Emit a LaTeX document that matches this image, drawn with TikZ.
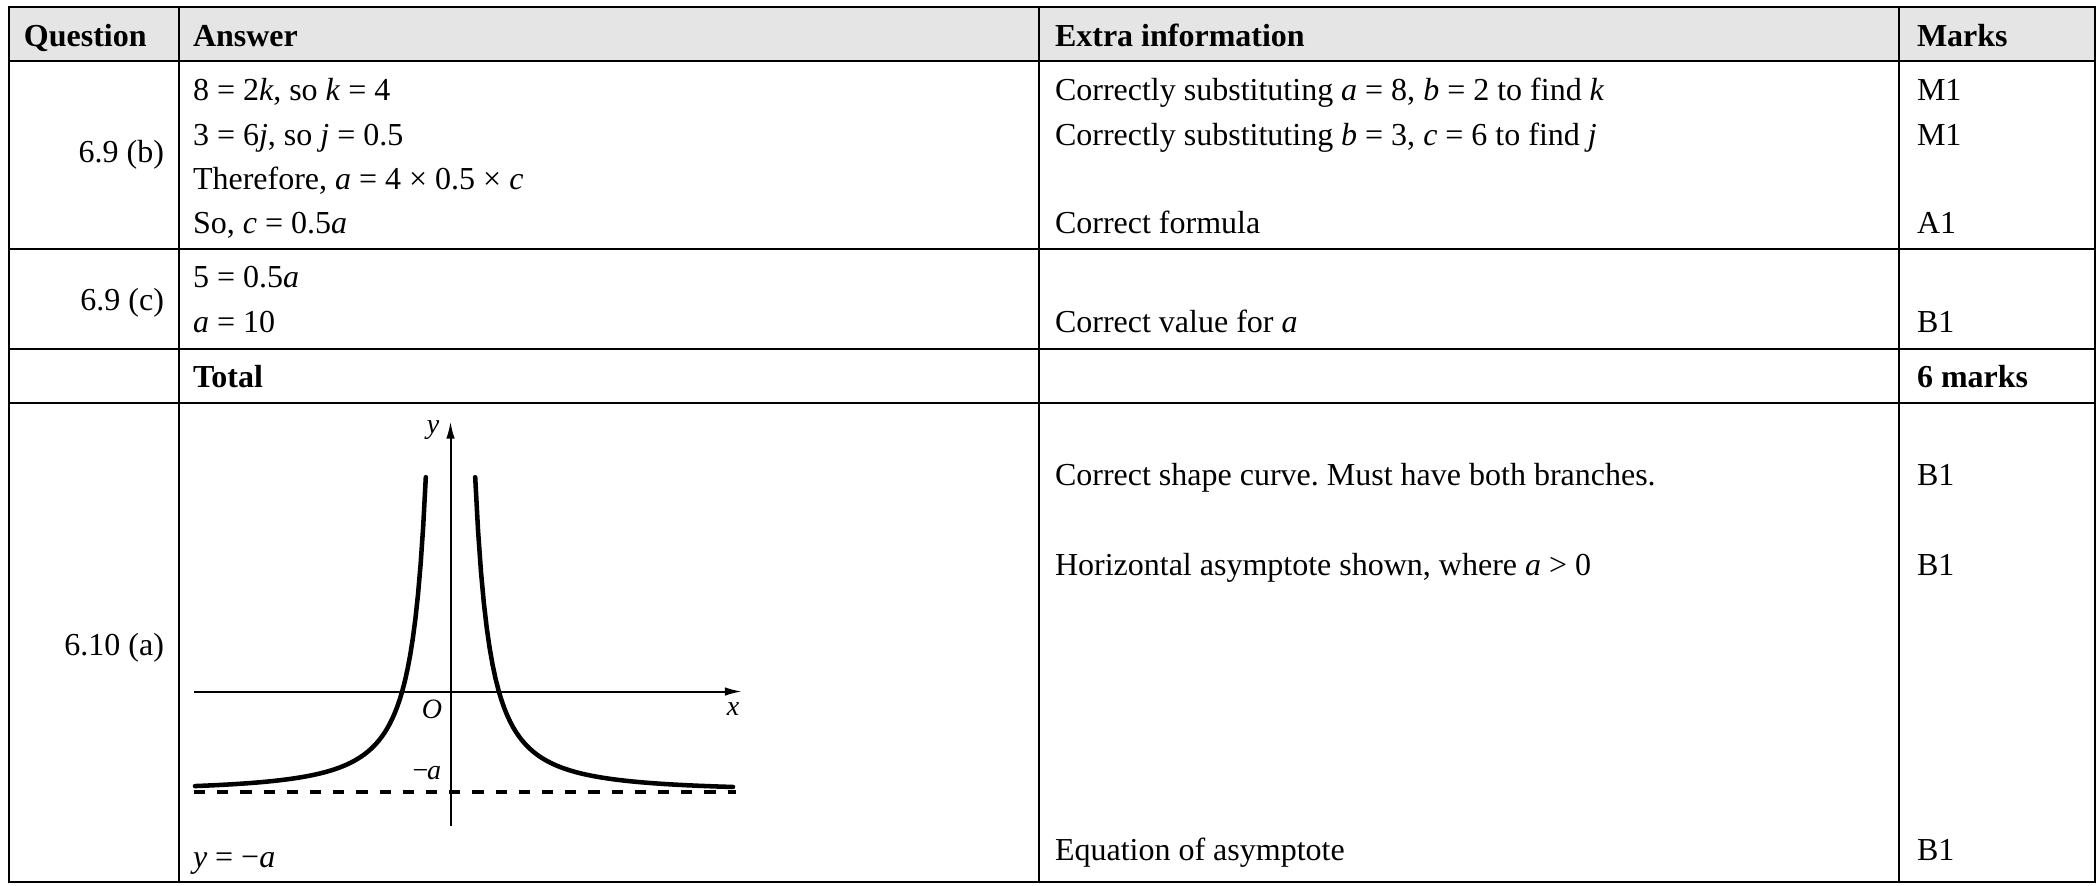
\documentclass[tikz,border=0pt]{standalone}
\usepackage{fontspec}
\setmainfont{Liberation Serif}
\usetikzlibrary{arrows.meta}
\definecolor{headgray}{gray}{0.9}
\frenchspacing

\begin{document}
\begin{tikzpicture}[x=0.375pt, y=-0.375pt,
  every node/.style={inner sep=0pt, outer sep=0pt, font=\fontsize{12}{14}\selectfont},
  cell/.style={anchor=base west},
  qnum/.style={anchor=base east},
  head/.style={anchor=base west, font=\fontsize{12}{14}\selectfont\bfseries},
  axlabel/.style={anchor=base, font=\fontsize{10.5}{12}\selectfont\itshape},
  rule/.style={line width=0.9pt},
  axis/.style={line width=0.75pt, -{Latex[length=6.4pt, width=3.2pt]}},
  branch/.style={line width=1.7pt, line cap=round}]
\useasboundingbox (0,0) rectangle (2100,885);
\fill[headgray] (9,7) rectangle (2095,61);

\node[head] (qhead) at (24,46.5) {Question};
\node[head] (ahead) at (193,46.5) {Answer};
\node[head] (ehead) at (1055,46.5) {Extra information};
\node[head] (mhead) at (1917,46.5) {Marks};

\node[qnum] (q9b) at (164,162) {6.9 (b)};
\node[cell] (a9b1) at (193,100) {8 = 2\textit{k}, so \textit{k} = 4};
\node[cell] (a9b2) at (193,145) {3 = 6\textit{j}, so \textit{j} = 0.5};
\node[cell] (a9b3) at (193,189) {Therefore, \textit{a} = 4 × 0.5 × \textit{c}};
\node[cell] (a9b4) at (193,233) {So, \textit{c} = 0.5\textit{a}};
\node[cell] (e9b1) at (1055,100) {Correctly substituting \textit{a} = 8, \textit{b} = 2 to find \textit{k}};
\node[cell] (e9b2) at (1055,145) {Correctly substituting \textit{b} = 3, \textit{c} = 6 to find \textit{j}};
\node[cell] (e9b4) at (1055,233) {Correct formula};
\node[cell] (m9b1) at (1917,100) {M1};
\node[cell] (m9b2) at (1917,145) {M1};
\node[cell] (m9b4) at (1917,233) {A1};

\node[qnum] (q9c) at (164,310) {6.9 (c)};
\node[cell] (a9c1) at (193,287) {5 = 0.5\textit{a}};
\node[cell] (a9c2) at (193,332) {\textit{a} = 10};
\node[cell] (e9c2) at (1055,332) {Correct value for \textit{a}};
\node[cell] (m9c2) at (1917,332) {B1};

\node[head] (total) at (193,387) {Total};
\node[head] (mtotal) at (1917,387) {6 marks};

\node[qnum] (q10a) at (164,655) {6.10 (a)};
\node[cell] (a10a) at (193,867) {\textit{y} = −\textit{a}};
\node[cell] (e10a1) at (1055,485) {Correct shape curve. Must have both branches.};
\node[cell] (e10a2) at (1055,575.5) {Horizontal asymptote shown, where \textit{a} > 0};
\node[cell] (e10a3) at (1055,860) {Equation of asymptote};
\node[cell] (m10a1) at (1917,485) {B1};
\node[cell] (m10a2) at (1917,575.5) {B1};
\node[cell] (m10a3) at (1917,860) {B1};

\draw[axis] (450.5,826) -- (450.5,421.5);
\draw[axis] (194,691.5) -- (742,691.5);
\draw[line width=1.35pt, dash pattern=on 4.2pt off 4.5pt] (194,792) -- (736,792);
\draw[branch] plot[domain=24.7:255.5, samples=90, variable=\t] ({450.5-\t}, {792-100*pow(48.5/\t,1.7)});
\draw[branch] plot[domain=24.7:282.5, samples=90, variable=\t] ({450.5+\t}, {792-100*pow(48.5/\t,1.7)});
\node[axlabel] (ylab) at (433,433) {y};
\node[axlabel] (xlab) at (733,715) {x};
\node[axlabel] (olab) at (432,718) {O};
\node[axlabel, anchor=base east] (alab) at (441,779) {\upshape−\kern-0.05em\itshape a};

\draw[rule] (9,7) rectangle (2095,882);
\draw[rule] (9,61) -- (2095,61);
\draw[rule] (9,249) -- (2095,249);
\draw[rule] (9,349) -- (2095,349);
\draw[rule] (9,403) -- (2095,403);
\draw[rule] (179,7) -- (179,882);
\draw[rule] (1039,7) -- (1039,882);
\draw[rule] (1899,7) -- (1899,882);
\end{tikzpicture}
\end{document}
